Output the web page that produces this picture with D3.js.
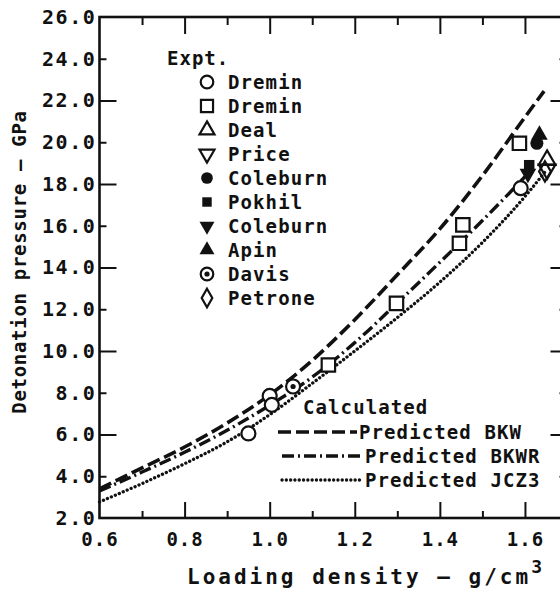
<!DOCTYPE html>
<html>
<head>
<meta charset="utf-8">
<script src="https://cdn.jsdelivr.net/npm/d3@7"></script>
<style>
  body { margin: 0; background: #fff; }
  svg text { font-family: "DejaVu Sans Mono", monospace; font-weight: bold; fill: #111; }
</style>
</head>
<body>
<svg id="chart" width="560" height="594"></svg>
<script>
// calculated curves (density g/cm3 , pressure GPa)
var bkwDensity   = [0.6, 0.7, 0.8, 0.9, 1.0, 1.1, 1.2, 1.3, 1.4, 1.5, 1.6, 1.645];
var bkwPressure  = [3.39, 4.4, 5.4, 6.55, 7.9, 9.55, 11.5, 13.65, 15.85, 18.4, 21.2, 22.45];
var bkwrDensity  = [0.6, 0.7, 0.8, 0.9, 1.0, 1.1, 1.2, 1.3, 1.4, 1.5, 1.6, 1.625];
var bkwrPressure = [3.3, 4.2, 5.15, 6.2, 7.4, 8.75, 10.4, 12.3, 14.25, 16.25, 18.35, 18.9];
var jczDensity   = [0.6, 0.7, 0.8, 0.9, 1.0, 1.1, 1.2, 1.3, 1.4, 1.5, 1.6, 1.65];
var jczPressure  = [2.77, 3.65, 4.6, 5.65, 6.95, 8.45, 10.0, 11.6, 13.3, 15.2, 17.4, 18.65];

// experiments
var dreminCircleX = [0.95, 1.0, 1.005, 1.59];
var dreminCircleY = [6.05, 7.85, 7.42, 17.8];
var dreminSquareX = [1.138, 1.298, 1.446, 1.454, 1.587];
var dreminSquareY = [9.33, 12.28, 15.16, 16.04, 19.95];
var dealX = [1.652], dealY = [19.15];
var priceX = [1.652], priceY = [18.7];
var coleburnX = [1.628], coleburnY = [19.95];
var pokhilX = [1.61], pokhilY = [18.9];
var coleburn2X = [1.607], coleburn2Y = [18.5];
var apinX = [1.634], apinY = [20.35];
var davisX = [1.055], davisY = [8.3];
var petroneX = [1.647], petroneY = [18.6];

var exptNames = ["Dremin", "Dremin", "Deal", "Price", "Coleburn", "Pokhil", "Coleburn", "Apin", "Davis", "Petrone"];
var calcNames = ["Predicted BKW", "Predicted BKWR", "Predicted JCZ3"];

var xLabelTicks = [0.6, 0.8, 1.0, 1.2, 1.4, 1.6];
var xLongTicks = [0.8, 1.0, 1.2, 1.4, 1.6];
var xShortTicks = [0.7, 0.9, 1.1, 1.3, 1.5];
var yLabelTicks = [2, 4, 6, 8, 10, 12, 14, 16, 18, 20, 22, 24, 26];
var yLongTicks = [6, 10, 14, 18, 22];
var yShortTicks = [4, 8, 12, 16, 20, 24];

var svg = d3.select("#chart");
var x = d3.scaleLinear().domain([0.6, 1.7]).range([99.5, 567.5]);
var y = d3.scaleLinear().domain([2, 26]).range([518, 17]);

// frame
svg.append("rect")
  .attr("x", x(0.6)).attr("y", y(26))
  .attr("width", x(1.7) - x(0.6)).attr("height", y(2) - y(26))
  .attr("fill", "none").attr("stroke", "#111").attr("stroke-width", 2.6);

function tickMarks(gen, vals, size, tx, ty) {
  var g = svg.append("g")
    .attr("transform", "translate(" + tx + "," + ty + ")")
    .call(gen.tickValues(vals).tickSize(size).tickFormat(""));
  g.select(".domain").remove();
  g.selectAll("line").attr("stroke", "#111").attr("stroke-width", 2);
}
tickMarks(d3.axisBottom(x), xLongTicks, -16, 0, y(2));
tickMarks(d3.axisBottom(x), xShortTicks, -7, 0, y(2));
tickMarks(d3.axisTop(x), xLongTicks, -17, 0, y(26));
tickMarks(d3.axisTop(x), xShortTicks, -8, 0, y(26));
tickMarks(d3.axisLeft(y), yLongTicks, -17, x(0.6), 0);
tickMarks(d3.axisLeft(y), yShortTicks, -7, x(0.6), 0);
tickMarks(d3.axisRight(y), yLongTicks, -17, x(1.7), 0);
tickMarks(d3.axisRight(y), yShortTicks, -8, x(1.7), 0);

// tick labels
var xl = svg.append("g").attr("transform", "translate(0," + y(2) + ")")
  .call(d3.axisBottom(x).tickValues(xLabelTicks).tickSize(0).tickPadding(15).tickFormat(d3.format(".1f")));
xl.select(".domain").remove();
xl.attr("font-family", null).attr("font-size", null);
xl.selectAll("text").style("font-size", "19px").style("letter-spacing", "1px");

var yl = svg.append("g").attr("transform", "translate(" + x(0.6) + ",0)")
  .call(d3.axisLeft(y).tickValues(yLabelTicks).tickSize(0).tickPadding(3).tickFormat(d3.format(".1f")));
yl.select(".domain").remove();
yl.attr("font-family", null).attr("font-size", null);
yl.selectAll("text").style("font-size", "20px").style("letter-spacing", "1.6px");

// axis titles
svg.append("text")
  .attr("transform", "translate(26,262) rotate(-90)")
  .attr("text-anchor", "middle")
  .style("font-size", "19px").style("letter-spacing", "0.7px")
  .text("Detonation pressure \u2014 GPa");

var xt = svg.append("text")
  .attr("x", 187).attr("y", 584)
  .style("font-size", "21px").style("letter-spacing", "3px")
  .text("Loading density \u2014 g/cm");
xt.append("tspan").attr("dy", -11).style("font-size", "18px").text("3");

// curves
var line = d3.line().x(d => x(d[0])).y(d => y(d[1])).curve(d3.curveMonotoneX);
var styles = [
  { dash: "13,5", w: 3.6, cap: "butt" },
  { dash: "12,4,2,4", w: 3.4, cap: "butt" },
  { dash: "0.1,4.2", w: 3.3, cap: "round" }
];
var curves = [d3.zip(bkwDensity, bkwPressure), d3.zip(bkwrDensity, bkwrPressure), d3.zip(jczDensity, jczPressure)];
curves.forEach(function(c, i) {
  svg.append("path").datum(c)
    .attr("d", line)
    .attr("fill", "none").attr("stroke", "#111")
    .attr("stroke-width", styles[i].w)
    .attr("stroke-dasharray", styles[i].dash)
    .attr("stroke-linecap", styles[i].cap);
});

// markers
function marker(g, kind, s) {
  var sw = 2.2;
  var k = s || 1;
  if (kind === "circle") g.append("circle").attr("r", 7 * k).attr("fill", "#fff").attr("stroke", "#111").attr("stroke-width", sw);
  if (kind === "square") g.append("path").attr("d", d3.symbol(d3.symbolSquare, 180 * k * k)()).attr("fill", "#fff").attr("stroke", "#111").attr("stroke-width", sw);
  if (kind === "triUp") g.append("path").attr("d", d3.symbol(d3.symbolTriangle, 120 * k * k)()).attr("fill", "none").attr("stroke", "#111").attr("stroke-width", sw);
  if (kind === "triDown") g.append("path").attr("d", d3.symbol(d3.symbolTriangle, 120 * k * k)()).attr("transform", "rotate(180)").attr("fill", "none").attr("stroke", "#111").attr("stroke-width", sw);
  if (kind === "dot") g.append("circle").attr("r", 6.5 * k).attr("fill", "#111");
  if (kind === "box") g.append("path").attr("d", d3.symbol(d3.symbolSquare, 110 * k * k)()).attr("fill", "#111");
  if (kind === "triDownFill") g.append("path").attr("d", d3.symbol(d3.symbolTriangle, 120 * k * k)()).attr("transform", "rotate(180)").attr("fill", "#111");
  if (kind === "triUpFill") g.append("path").attr("d", d3.symbol(d3.symbolTriangle, 120 * k * k)()).attr("fill", "#111");
  if (kind === "bullseye") {
    g.append("circle").attr("r", 7 * k).attr("fill", "#fff").attr("stroke", "#111").attr("stroke-width", sw);
    g.append("circle").attr("r", 2.6).attr("fill", "#111");
  }
  if (kind === "diamond") g.append("path").attr("d", d3.symbol(d3.symbolDiamond, 120 * k * k)()).attr("fill", "none").attr("stroke", "#111").attr("stroke-width", sw);
}

var kinds = ["circle", "square", "triUp", "triDown", "dot", "box", "triDownFill", "triUpFill", "bullseye", "diamond"];
var seriesX = [dreminCircleX, dreminSquareX, dealX, priceX, coleburnX, pokhilX, coleburn2X, apinX, davisX, petroneX];
var seriesY = [dreminCircleY, dreminSquareY, dealY, priceY, coleburnY, pokhilY, coleburn2Y, apinY, davisY, petroneY];
var drawOrder = [0, 1, 8, 9, 2, 3, 5, 6, 4, 7];
drawOrder.forEach(function(k) {
  seriesX[k].forEach(function(v, j) {
    var g = svg.append("g").attr("transform", "translate(" + x(v) + "," + y(seriesY[k][j]) + ")");
    marker(g, kinds[k]);
  });
});

// legend: experiments
svg.append("text").attr("x", 167).attr("y", 58).attr("dy", "0.35em")
  .style("font-size", "19px").style("letter-spacing", "1px").text("Expt.");
exptNames.forEach(function(name, i) {
  var ry = 82 + i * 24;
  var g = svg.append("g").attr("transform", "translate(207," + ry + ")");
  marker(g, kinds[i], 0.9);
  svg.append("text").attr("x", 228).attr("y", ry).attr("dy", "0.35em")
    .style("font-size", "19px").style("letter-spacing", "1.1px").text(name);
});

// legend: calculated
svg.append("text").attr("x", 303).attr("y", 407).attr("dy", "0.35em")
  .style("font-size", "19px").style("letter-spacing", "1.1px").text("Calculated");
var calcRows = [432, 456, 480];
var calcStart = [278, 282, 282];
var calcEnd = [357, 363, 363];
calcNames.forEach(function(name, i) {
  svg.append("line")
    .attr("x1", calcStart[i]).attr("x2", calcEnd[i])
    .attr("y1", calcRows[i]).attr("y2", calcRows[i])
    .attr("stroke", "#111").attr("stroke-width", styles[i].w)
    .attr("stroke-dasharray", styles[i].dash)
    .attr("stroke-linecap", styles[i].cap);
  svg.append("text").attr("x", calcEnd[i] + 2).attr("y", calcRows[i]).attr("dy", "0.35em")
    .style("font-size", "19px").style("letter-spacing", "1.1px").text(name);
});
</script>
</body>
</html>
